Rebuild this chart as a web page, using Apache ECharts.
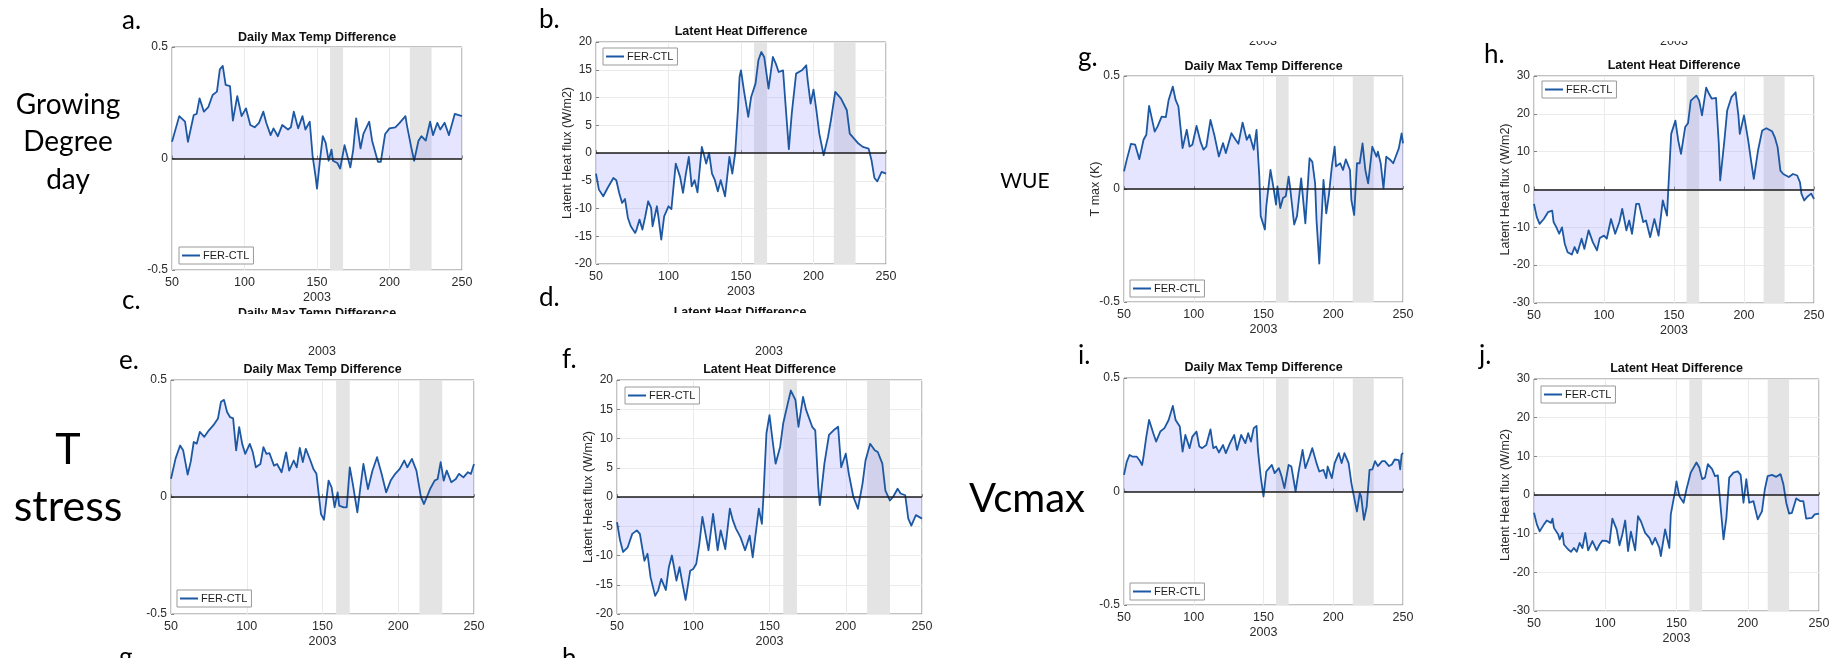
<!DOCTYPE html>
<html>
<head>
<meta charset="utf-8">
<script src="https://cdn.jsdelivr.net/npm/echarts@6/dist/echarts.min.js"></script>
<style>
  html, body { margin: 0; padding: 0; background: #ffffff; }
  #chart { width: 1829px; height: 658px; }
</style>
</head>
<body>
<div id="chart"></div>
<script>
// ---- Data: FER minus CTL differences, day of year 2003 ----

// Growing degree day experiment
const tmaxGrowingDegree = [[50,0.075],[55,0.19],[59,0.165],[61,0.075],[65,0.195],[67,0.20],[69,0.27],[72,0.21],[75,0.23],[78,0.285],[81,0.30],[83,0.40],[85,0.415],[87,0.33],[90,0.325],[92,0.17],[95,0.28],[98,0.19],[101,0.225],[104,0.15],[107,0.14],[110,0.16],[113,0.21],[115,0.16],[118,0.105],[120,0.135],[123,0.10],[126,0.15],[130,0.13],[132,0.14],[134,0.21],[137,0.135],[140,0.19],[142,0.13],[145,0.165],[147,0.01],[149,-0.08],[150,-0.135],[152,-0.01],[154,0.10],[156,0.07],[158,-0.01],[160,0.04],[161,-0.01],[164,-0.02],[166,-0.045],[169,0.06],[173,-0.04],[175,0.04],[177,0.18],[180,0.045],[182,0.11],[186,0.165],[188,0.08],[192,-0.015],[194,-0.015],[197,0.11],[200,0.135],[204,0.14],[207,0.16],[211,0.19],[212,0.15],[215,0.05],[217,-0.01],[220,0.08],[222,0.10],[225,0.08],[228,0.165],[230,0.105],[233,0.16],[235,0.13],[238,0.16],[241,0.105],[245,0.20],[250,0.19]];
const latentGrowingDegree = [[50,-3.7],[52,-6.6],[55,-7.8],[58,-6.3],[62,-4.5],[64,-4.9],[66,-7.2],[68,-9.0],[70,-8.3],[72,-11.7],[74,-13.2],[77,-14.4],[78,-13.8],[80,-12.0],[82,-13.8],[84,-11.4],[86,-8.7],[88,-9.9],[89,-13.2],[92,-9.6],[93,-11.4],[95,-15.6],[97,-11.4],[100,-9.6],[102,-10.1],[105,-1.9],[108,-4.3],[110,-7.2],[112,-3.7],[114,-0.7],[116,-6.0],[118,-4.9],[120,-7.1],[123,1.1],[126,-1.9],[128,0],[130,-3.7],[132,-4.9],[134,-6.9],[136,-4.9],[139,-7.8],[142,-0.7],[144,-3.7],[146,0],[148,8.3],[149,13.7],[150,14.9],[152,11.3],[155,6.5],[157,10.1],[160,12.5],[162,16.7],[164,18.2],[166,17.3],[169,11.6],[172,17.3],[174,16.1],[176,14.6],[179,14.9],[181,7.7],[183,0.7],[185,7.1],[188,14.3],[192,14.9],[195,15.8],[196,13.1],[198,8.9],[200,11.4],[202,7.7],[204,3.5],[207,-0.4],[210,2.9],[212,5.9],[215,11.0],[219,9.8],[223,7.7],[225,3.5],[228,2.6],[231,1.7],[234,1.1],[238,0.8],[240,-1.3],[242,-4.5],[244,-5.1],[247,-3.4],[250,-3.7]];

// T stress experiment
const tmaxTStress = [[50,0.078],[53,0.164],[56,0.22],[58,0.20],[61,0.096],[63,0.15],[65,0.235],[67,0.228],[69,0.278],[72,0.257],[75,0.285],[78,0.307],[81,0.336],[83,0.407],[85,0.415],[87,0.363],[89,0.341],[91,0.336],[93,0.199],[95,0.299],[97,0.227],[99,0.184],[102,0.227],[104,0.191],[106,0.127],[109,0.141],[111,0.213],[113,0.184],[115,0.187],[118,0.134],[120,0.141],[123,0.106],[126,0.191],[128,0.113],[131,0.156],[133,0.127],[135,0.21],[137,0.149],[139,0.206],[142,0.156],[144,0.12],[146,0.099],[148,-0.016],[149,-0.073],[151,-0.097],[153,0.013],[154,0.07],[156,0.041],[158,-0.044],[160,0.02],[161,-0.037],[164,-0.044],[166,-0.044],[168,0.127],[170,0.056],[173,-0.066],[175,0.041],[177,0.141],[180,0.034],[183,0.113],[186,0.17],[189,0.099],[192,0.02],[195,0.07],[198,0.099],[201,0.12],[204,0.156],[206,0.127],[209,0.163],[212,0.113],[215,-0.001],[217,-0.03],[218,-0.027],[221,0.034],[224,0.07],[226,0.077],[228,0.149],[230,0.07],[232,0.113],[235,0.063],[238,0.077],[240,0.099],[243,0.084],[246,0.106],[248,0.099],[250,0.141]];
const latentTStress = [[50,-4.3],[52,-7.4],[54,-9.4],[57,-8.6],[60,-6.3],[63,-5.7],[65,-6.3],[67,-9.4],[68,-10.9],[70,-9.7],[72,-13.7],[75,-16.9],[77,-16.0],[79,-14.0],[82,-15.9],[84,-12.0],[86,-10.0],[89,-14.3],[91,-12.0],[93,-14.9],[95,-17.6],[98,-12.6],[100,-12.3],[102,-11.4],[104,-8.0],[106,-3.4],[110,-9.1],[113,-2.9],[116,-9.1],[118,-5.7],[121,-8.9],[124,-2.0],[126,-4.0],[128,-5.4],[131,-6.9],[134,-9.1],[137,-6.6],[139,-10.3],[143,-2.0],[145,-4.6],[146,0],[148,10.9],[150,14.0],[152,9.7],[154,5.7],[157,8.6],[159,12.6],[162,16.0],[164,18.2],[167,16.6],[169,12.0],[172,17.1],[174,14.9],[178,12.0],[180,11.4],[182,1.7],[183,-1.4],[186,5.7],[189,10.6],[192,11.4],[195,12.0],[197,5.1],[200,7.4],[202,4.0],[205,0],[208,-2.0],[211,2.3],[213,6.3],[216,9.1],[219,8.0],[221,7.7],[224,5.7],[226,1.1],[229,-0.6],[231,0],[234,1.4],[236,0.6],[239,0.3],[241,-3.7],[243,-4.9],[246,-3.1],[248,-3.4],[250,-3.7]];

// WUE experiment
const tmaxWUE = [[50,0.078],[52,0.13],[55,0.20],[58,0.196],[61,0.132],[64,0.218],[66,0.24],[68,0.368],[72,0.254],[74,0.276],[77,0.32],[80,0.318],[82,0.394],[85,0.453],[87,0.394],[89,0.365],[92,0.181],[95,0.262],[97,0.188],[99,0.196],[102,0.279],[105,0.206],[107,0.174],[109,0.188],[112,0.306],[115,0.232],[118,0.144],[121,0.203],[123,0.159],[127,0.247],[130,0.218],[132,0.20],[135,0.294],[138,0.218],[140,0.24],[143,0.174],[145,0.262],[147,0.056],[148,-0.12],[151,-0.179],[152,-0.076],[155,0.085],[157,0.012],[159,-0.069],[160,0.012],[162,-0.084],[164,-0.04],[166,-0.032],[168,0.055],[169,0.01],[172,-0.157],[174,-0.12],[177,0.047],[180,-0.152],[183,0.136],[185,0.12],[187,0.025],[188,-0.137],[190,-0.33],[193,0.04],[195,-0.108],[197,-0.02],[199,0.10],[201,0.187],[202,0.10],[205,0.114],[207,0.084],[209,0.131],[212,0.084],[213,-0.049],[215,-0.115],[217,0.114],[219,0.114],[221,0.202],[223,0.084],[225,0.025],[226,0.025],[228,0.187],[231,0.143],[232,0.165],[234,0.114],[236,0.003],[238,0.143],[241,0.128],[243,0.114],[247,0.18],[249,0.246],[250,0.202]];
const latentWUE = [[50,-3.8],[52,-7.3],[54,-9.1],[57,-7.8],[60,-6.0],[63,-5.6],[64,-8.6],[66,-10.0],[68,-11.7],[70,-10.0],[72,-14.4],[74,-16.6],[77,-17.2],[79,-15.2],[81,-16.8],[84,-13.0],[86,-15.7],[89,-10.8],[92,-13.9],[95,-16.1],[97,-12.8],[100,-12.2],[102,-13.0],[105,-7.8],[108,-11.7],[111,-8.6],[113,-5.1],[116,-10.8],[118,-8.2],[120,-11.7],[123,-3.8],[125,-3.8],[128,-8.6],[130,-8.2],[133,-12.6],[136,-7.8],[139,-12.2],[142,-2.9],[145,-6.9],[146,0.6],[148,14.7],[151,18.2],[153,13.0],[155,9.4],[158,16.5],[160,17.5],[162,23.5],[166,24.8],[168,23.5],[170,19.6],[173,26.9],[175,25.3],[177,24.0],[180,24.2],[182,12.1],[183,2.4],[186,13.0],[188,20.9],[191,24.4],[194,25.7],[196,19.6],[197,14.7],[200,19.6],[203,13.0],[205,7.7],[207,2.8],[210,10.3],[213,15.6],[216,16.2],[220,15.4],[222,13.8],[224,11.2],[226,5.0],[228,4.1],[232,3.3],[235,4.1],[238,3.7],[240,1.9],[241,-1.1],[243,-2.9],[245,-2.0],[248,-1.1],[250,-2.5]];

// Vcmax experiment
const tmaxVcmax = [[50,0.073],[52,0.132],[54,0.161],[56,0.154],[59,0.154],[61,0.139],[63,0.117],[64,0.154],[66,0.242],[68,0.315],[71,0.257],[73,0.22],[76,0.264],[79,0.279],[82,0.315],[85,0.377],[87,0.315],[90,0.286],[92,0.176],[94,0.249],[97,0.191],[99,0.242],[102,0.264],[104,0.198],[106,0.191],[109,0.205],[112,0.274],[114,0.191],[116,0.198],[118,0.172],[121,0.205],[123,0.169],[126,0.213],[129,0.249],[131,0.183],[134,0.249],[137,0.213],[139,0.257],[141,0.22],[143,0.279],[145,0.289],[146,0.183],[148,0.066],[150,-0.022],[152,0.088],[154,0.103],[156,0.117],[158,0.081],[161,0.103],[163,0.066],[165,0.015],[168,0.117],[170,0.11],[173,0],[175,0.081],[178,0.183],[180,0.103],[183,0.154],[185,0.191],[188,0.125],[190,0.088],[193,0.095],[195,0.059],[196,0.11],[199,0.059],[201,0.125],[204,0.169],[206,0.125],[208,0.169],[211,0.125],[213,0.037],[216,-0.059],[217,-0.088],[219,-0.007],[220,-0.022],[222,-0.125],[224,-0.066],[226,0.095],[228,0.097],[230,0.134],[232,0.112],[235,0.134],[237,0.134],[240,0.112],[242,0.119],[244,0.141],[247,0.138],[248,0.097],[249,0.163],[250,0.17]];
const latentVcmax = [[50,-4.6],[52,-7.6],[54,-9.4],[57,-7.6],[59,-6.6],[60,-6.8],[62,-7.2],[63,-6.1],[64,-8.5],[67,-10.2],[68,-11.5],[70,-9.8],[71,-12.8],[74,-14.1],[76,-14.7],[78,-13.7],[80,-14.7],[82,-12.4],[84,-13.7],[86,-9.8],[88,-14.3],[91,-11.9],[94,-14.3],[96,-12.8],[98,-11.8],[101,-11.9],[103,-12.4],[105,-6.1],[108,-8.9],[110,-13.0],[112,-10.2],[114,-6.6],[116,-14.5],[118,-9.5],[121,-14.3],[123,-5.5],[125,-6.8],[128,-9.8],[131,-11.1],[133,-12.8],[135,-11.1],[138,-13.7],[139,-15.8],[142,-8.9],[143,-9.4],[145,-13.7],[146,-5.0],[149,1.0],[150,3.5],[152,-0.3],[155,-2.0],[157,1.5],[158,2.9],[160,5.8],[164,8.4],[166,7.1],[168,4.1],[170,4.5],[172,8.0],[175,6.7],[177,4.9],[179,5.1],[181,-3.3],[183,-11.5],[185,-5.9],[187,4.5],[190,5.8],[193,6.1],[195,5.2],[197,-2.0],[199,4.1],[201,-2.0],[204,-1.6],[207,-6.3],[210,-4.2],[212,1.5],[214,4.9],[217,5.2],[220,4.7],[223,5.4],[225,2.8],[227,-2.0],[229,-4.8],[231,-4.6],[234,-0.9],[237,-1.6],[239,-1.6],[241,-6.1],[245,-5.9],[247,-5.0],[250,-4.8]];

// Shaded heat-wave windows (day of year)
const heatwaveSpans = [[159, 168], [214, 229]];

// Axis ticks
const dayTicks = [50, 100, 150, 200, 250];
const tempTicks = [-0.5, 0, 0.5];
const latentTicks20 = [-20, -15, -10, -5, 0, 5, 10, 15, 20];
const latentTicks30 = [-30, -20, -10, 0, 10, 20, 30];

const seriesName = 'FER-CTL';
const tempTitle = 'Daily Max Temp Difference';
const latentTitle = 'Latent Heat Difference';
const latentAxisName = 'Latent Heat flux (W/m2)';
const yearLabel = '2003';

// ---- Layout of the eight panels ----
const panels = [
  { data: tmaxGrowingDegree,   ticks: tempTicks,     title: tempTitle,   yName: '',              left: 172,  top: 47,  width: 290, height: 223, titleY: 38,  legend: [179, 247] },
  { data: latentGrowingDegree, ticks: latentTicks20, title: latentTitle, yName: latentAxisName, left: 596,  top: 42,  width: 290, height: 222, titleY: 32,  legend: [603, 48] },
  { data: tmaxTStress,         ticks: tempTicks,     title: tempTitle,   yName: '',              left: 171,  top: 380, width: 303, height: 234, titleY: 370, legend: [177, 590] },
  { data: latentTStress,       ticks: latentTicks20, title: latentTitle, yName: latentAxisName, left: 617,  top: 380, width: 305, height: 234, titleY: 370, legend: [625, 387] },
  { data: tmaxWUE,             ticks: tempTicks,     title: tempTitle,   yName: 'T max (K)',     left: 1124, top: 76,  width: 279, height: 226, titleY: 67,  legend: [1130, 280] },
  { data: latentWUE,           ticks: latentTicks30, title: latentTitle, yName: latentAxisName, left: 1534, top: 76,  width: 280, height: 227, titleY: 66,  legend: [1542, 81] },
  { data: tmaxVcmax,           ticks: tempTicks,     title: tempTitle,   yName: '',              left: 1124, top: 378, width: 279, height: 227, titleY: 368, legend: [1130, 583] },
  { data: latentVcmax,         ticks: latentTicks30, title: latentTitle, yName: latentAxisName, left: 1534, top: 379, width: 285, height: 232, titleY: 369, legend: [1541, 386] }
];

const AXIS_FONT = 'Liberation Sans, Arial, Helvetica, sans-serif';
const SLIDE_FONT = 'Lato, Carlito, Calibri, sans-serif';
const LINE_COLOR = '#1d58a3';
const FILL_COLOR = 'rgba(150,150,255,0.36)';
const BAND_COLOR = '#e4e4e4';
const BOX_COLOR = '#848484';
const GRID_COLOR = '#ebebeb';
const LABEL_COLOR = '#2b2b2b';

const grids = [], xAxes = [], yAxes = [], series = [], legends = [];

panels.forEach((p, i) => {
  grids.push({
    left: p.left, top: p.top, width: p.width, height: p.height,
    show: true, borderColor: BOX_COLOR, borderWidth: 1,
    backgroundColor: 'transparent',
    containLabel: false, outerBoundsMode: 'none'
  });
  xAxes.push({
    gridIndex: i, type: 'value',
    min: dayTicks[0], max: dayTicks[dayTicks.length - 1], interval: dayTicks[1] - dayTicks[0],
    name: yearLabel, nameLocation: 'middle', nameGap: 21, nameMoveOverlap: false,
    nameTextStyle: { fontSize: 12.5, color: LABEL_COLOR, fontFamily: AXIS_FONT },
    axisLine: { show: false },
    axisTick: { show: true, inside: true, length: 3, lineStyle: { color: BOX_COLOR } },
    axisLabel: { fontSize: 12.5, color: LABEL_COLOR, margin: 6, fontFamily: AXIS_FONT },
    splitLine: { show: true, lineStyle: { color: GRID_COLOR, width: 1 } }
  });
  yAxes.push({
    gridIndex: i, type: 'value',
    min: p.ticks[0], max: p.ticks[p.ticks.length - 1], interval: p.ticks[1] - p.ticks[0],
    name: p.yName, nameLocation: 'middle', nameGap: 22, nameMoveOverlap: false,
    nameTextStyle: { fontSize: 12.5, color: LABEL_COLOR, fontFamily: AXIS_FONT },
    axisLine: { show: false },
    axisTick: { show: true, inside: true, length: 3, lineStyle: { color: BOX_COLOR } },
    axisLabel: { fontSize: 12, color: LABEL_COLOR, margin: 4, fontFamily: AXIS_FONT },
    splitLine: { show: true, lineStyle: { color: GRID_COLOR, width: 1 } }
  });
  series.push({
    name: seriesName, type: 'line',
    xAxisIndex: i, yAxisIndex: i,
    data: p.data,
    showSymbol: false, symbol: 'none', smooth: false,
    color: LINE_COLOR,
    itemStyle: { color: LINE_COLOR },
    lineStyle: { color: LINE_COLOR, width: 1.8, join: 'round' },
    areaStyle: { color: FILL_COLOR, origin: 0 },
    z: 3,
    markArea: {
      silent: true, z: 1,
      itemStyle: { color: BAND_COLOR, borderWidth: 0 },
      label: { show: false },
      data: heatwaveSpans.map(s => [{ xAxis: s[0] }, { xAxis: s[1] }])
    },
    markLine: {
      silent: true, symbol: ['none', 'none'],
      label: { show: false },
      lineStyle: { color: '#1a1a1a', width: 1.6, type: 'solid' },
      data: [{ yAxis: 0 }]
    }
  });
  legends.push({
    data: [seriesName],
    left: p.legend[0], top: p.legend[1],
    orient: 'horizontal', icon: 'rect',
    itemWidth: 18, itemHeight: 2, itemGap: 0,
    padding: [3, 4, 3, 3],
    borderColor: '#9a9a9a', borderWidth: 1, borderRadius: 0,
    backgroundColor: '#ffffff',
    selectedMode: false,
    textStyle: { fontSize: 11, color: '#1e1e1e', fontFamily: AXIS_FONT, padding: [0, 0, 0, -2] }
  });
});

// ---- Free text: panel titles, panel letters, row labels ----
function txt(text, x, y, font, opts) {
  opts = opts || {};
  return {
    type: 'text', x: x, y: y, z: opts.z || 50, silent: true,
    style: {
      text: text,
      font: font,
      fill: opts.fill || '#000000',
      align: opts.align || 'center', textAlign: opts.align || 'center',
      verticalAlign: 'middle', textVerticalAlign: 'middle'
    }
  };
}
function cover(x, y, w, h) {
  return { type: 'rect', z: 60, silent: true, shape: { x: x, y: y, width: w, height: h }, style: { fill: '#ffffff' } };
}

const TITLE_FONT = 'bold 12.5px ' + AXIS_FONT;
const graphics = [];
panels.forEach(p => {
  graphics.push(txt(p.title, p.left + p.width / 2, p.titleY, TITLE_FONT, { fill: '#111111' }));
});

const letterFont = '26px ' + SLIDE_FONT;
[['a.', 122, 21], ['b.', 539, 20], ['c.', 122, 301], ['d.', 539, 298],
 ['e.', 119, 361], ['f.', 562, 360], ['g.', 1078, 58], ['h.', 1484, 55],
 ['i.', 1078, 356], ['j.', 1479, 356], ['g.', 119, 658], ['h.', 562, 659]]
  .forEach(l => graphics.push(txt(l[0], l[1], l[2], letterFont, { align: 'left' })));

// row labels for each experiment
graphics.push(txt('Growing', 68, 105, '28px ' + SLIDE_FONT));
graphics.push(txt('Degree', 68, 142, '28px ' + SLIDE_FONT));
graphics.push(txt('day', 68, 180, '28px ' + SLIDE_FONT));
graphics.push(txt('T', 68, 450, '43px ' + SLIDE_FONT));
graphics.push(txt('stress', 68, 507, '43px ' + SLIDE_FONT));
graphics.push(txt('WUE', 1025, 181, '21px ' + SLIDE_FONT));
graphics.push(txt('Vcmax', 1027, 499, '40px ' + SLIDE_FONT));

// year labels and titles of the panels lying beneath the top row
graphics.push(txt(yearLabel, 322, 352, '12.5px ' + AXIS_FONT, { fill: LABEL_COLOR }));
graphics.push(txt(yearLabel, 769, 352, '12.5px ' + AXIS_FONT, { fill: LABEL_COLOR }));
graphics.push(txt(tempTitle, 317, 314, TITLE_FONT, { fill: '#111111' }));
graphics.push(txt(latentTitle, 740, 313, TITLE_FONT, { fill: '#111111' }));
graphics.push(cover(200, 314, 240, 28));
graphics.push(cover(620, 313, 240, 28));
graphics.push(txt(yearLabel, 1263, 42, '12.5px ' + AXIS_FONT, { fill: LABEL_COLOR }));
graphics.push(txt(yearLabel, 1674, 42, '12.5px ' + AXIS_FONT, { fill: LABEL_COLOR }));
graphics.push(cover(1230, 25, 70, 16));
graphics.push(cover(1640, 25, 70, 16));

const chart = echarts.init(document.getElementById('chart'), null, { renderer: 'canvas' });
chart.setOption({
  backgroundColor: '#ffffff',
  animation: false,
  tooltip: { show: false },
  grid: grids,
  xAxis: xAxes,
  yAxis: yAxes,
  legend: legends,
  series: series,
  graphic: { elements: graphics }
});
</script>
</body>
</html>
